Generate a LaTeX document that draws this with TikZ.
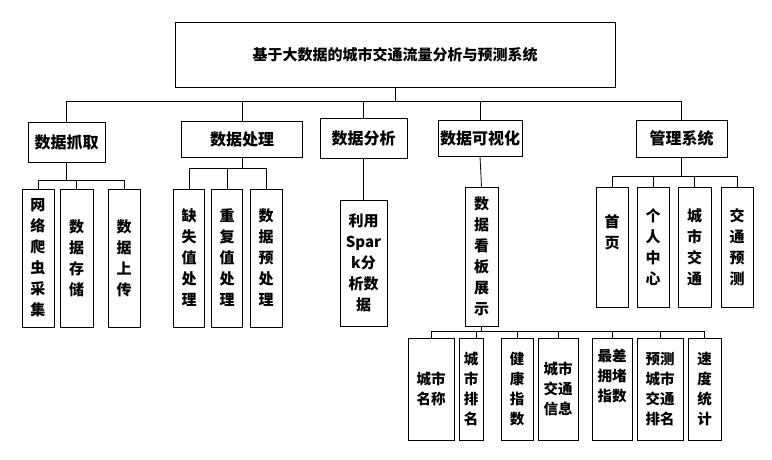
\documentclass[tikz,border=0pt]{standalone}
\usepackage{fontspec}
\setmainfont{Noto Sans CJK SC}
\begin{document}
\begin{tikzpicture}[x=1pt,y=-1pt,
  bx/.style={draw, line width=0.8pt, inner sep=0pt, align=center,
    font=\bfseries\fontsize{15}{21}\selectfont},
  bxl/.style={bx, font=\bfseries\fontsize{16}{21}\selectfont},
  bxs/.style={bx, font=\bfseries\fontsize{14.5}{20}\selectfont},
  ln/.style={line width=0.8pt}]
\useasboundingbox (0,0) rectangle (772,460);
% top
\node[bx, minimum width=440pt, minimum height=65pt] (top) at (395,55) {基于大数据的城市交通流量分析与预测系统};
% level 2
\node[bxl, minimum width=77pt, minimum height=40pt] (a) at (66.5,142.5) {数据抓取};
\node[bxl, minimum width=121pt, minimum height=36pt] (b) at (242,139) {数据处理};
\node[bxl, minimum width=87pt, minimum height=40pt] (c) at (363.5,138) {数据分析};
\node[bxl, minimum width=84pt, minimum height=36pt] (d) at (480,138) {数据可视化};
\node[bxl, minimum width=91pt, minimum height=37pt] (e) at (681.5,138.5) {管理系统};
% a children
\node[bx, minimum width=32pt, minimum height=138pt] (a1) at (38,258) {网\\络\\爬\\虫\\采\\集};
\node[bx, minimum width=33pt, minimum height=138pt] (a2) at (76.5,258) {数\\据\\存\\储};
\node[bx, minimum width=32pt, minimum height=138pt] (a3) at (124,258) {数\\据\\上\\传};
% b children
\node[bx, minimum width=31pt, minimum height=138pt] (b1) at (189,258) {缺\\失\\值\\处\\理};
\node[bx, minimum width=31pt, minimum height=138pt] (b2) at (227,258) {重\\复\\值\\处\\理};
\node[bx, minimum width=32pt, minimum height=138pt] (b3) at (266,258) {数\\据\\预\\处\\理};
% c child
\node[bx, minimum width=47pt, minimum height=126pt] (c1) at (363.5,263) {利用\\Spar\\k分\\析数\\据};
% d child
\node[bx, minimum width=33pt, minimum height=139pt] (d1) at (481.5,256.5) {数\\据\\看\\板\\展\\示};
% e children
\node[bx, minimum width=32pt, minimum height=120pt] (e1) at (612,247) {首\\页\\[10pt]};
\node[bx, minimum width=32pt, minimum height=120pt] (e2) at (653,247) {个\\人\\中\\心};
\node[bx, minimum width=33pt, minimum height=120pt] (e3) at (694.5,247) {城\\市\\交\\通};
\node[bx, minimum width=32pt, minimum height=120pt] (e4) at (737,247) {交\\通\\预\\测};
% bottom row
\node[bxs, minimum width=46pt, minimum height=102pt] (f1) at (431,389) {城市\\名称};
\node[bxs, minimum width=24pt, minimum height=102pt] (f2) at (471,389) {城\\市\\排\\名};
\node[bxs, minimum width=32pt, minimum height=102pt] (f3) at (517,389) {健\\康\\指\\数};
\node[bxs, minimum width=40pt, minimum height=102pt] (f4) at (558,389) {城市\\交通\\信息};
\node[bxs, minimum width=40pt, minimum height=102pt] (f5) at (612,389) {最差\\拥堵\\指数\\[8pt]};
\node[bxs, minimum width=46pt, minimum height=102pt] (f6) at (660,389) {预测\\城市\\交通\\排名};
\node[bxs, minimum width=33pt, minimum height=102pt] (f7) at (704.5,389) {速\\度\\统\\计};
% connectors
\coordinate (yt) at (0,101);
\draw[ln] (top.south) -- (top.south |- yt);
\draw[ln] (a.north) |- (e.north |- yt) -- (e.north);
\draw[ln] (b.north) -- (b.north |- yt);
\draw[ln] (c.north) -- (c.north |- yt);
\draw[ln] (d.north) -- (d.north |- yt);
% a bus
\coordinate (ya) at (0,180);
\draw[ln] (a.south) -- (a.south |- ya);
\draw[ln] (a1.north) |- (a3.north |- ya) -- (a3.north);
\draw[ln] (a2.north) -- (a2.north |- ya);
% b bus
\coordinate (yb) at (0,168);
\draw[ln] (b.south) -- (b.south |- yb);
\draw[ln] (b1.north) |- (b3.north |- yb) -- (b3.north);
\draw[ln] (b2.north) -- (b2.north |- yb);
% c, d
\draw[ln] (c.south) -- (c.south -| c1.north) -- (c1.north);
\draw[ln] (d.south) -- (d1.north);
% e bus
\coordinate (ye) at (0,176);
\draw[ln] (e.south) -- (e.south |- ye);
\draw[ln] (e1.north) |- (e4.north |- ye) -- (e4.north);
\draw[ln] (e2.north) -- (e2.north |- ye);
\draw[ln] (e3.north) -- (e3.north |- ye);
% f bus
\coordinate (yf) at (0,331.5);
\draw[ln] (d1.south) -- (d1.south |- yf);
\draw[ln] (f1.north) |- (f7.north |- yf) -- (f7.north);
\draw[ln] ([xshift=5pt]f2.north) -- ([xshift=5pt]f2.north |- yf);
\draw[ln] (f3.north) -- (f3.north |- yf);
\draw[ln] (f4.north) -- (f4.north |- yf);
\draw[ln] (f5.north) -- (f5.north |- yf);
\draw[ln] (f6.north) -- (f6.north |- yf);
\end{tikzpicture}
\end{document}
